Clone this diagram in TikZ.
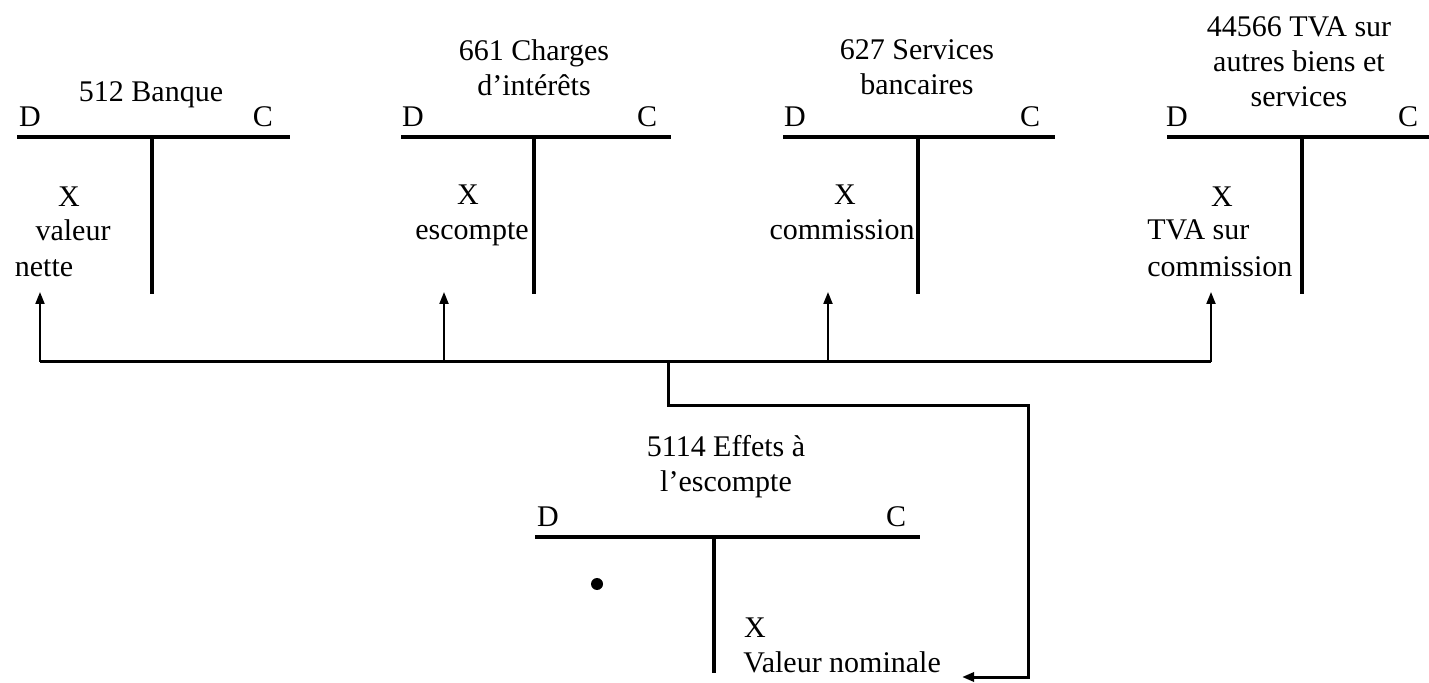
\documentclass[tikz,border=0pt]{standalone}
\usepackage{fontspec}
\setmainfont{Liberation Serif}
\usetikzlibrary{arrows.meta}
\tikzset{
    tline/.style={line width=2pt},
    bus/.style={line width=1.5pt},
    feed/.style={line width=1pt,-{Triangle[length=6pt,width=4.5pt]}},
    every node/.style={font=\fontsize{15}{17.5}\selectfont,inner sep=0pt}
}

\begin{document}
\begin{tikzpicture}[x=0.5pt,y=-0.5pt]
      \useasboundingbox (0,0) rectangle (1429,683);
      % accounts
      \foreach \l/\m/\r in {17/152/290,401/534/671,783/918/1055,1167/1302/1429}{
        \draw[tline] (\l,137) -- (\r,137);
        \draw[tline] (\m,137) -- (\m,294);
      }
      \draw[tline] (535,537) -- (920,537);
      \draw[tline] (714,537) -- (714,673);
      % titles
      \node (t512) at (151,95) {512 Banque};
      \node[align=center] (t661) at (534,68) {661 Charges\\d’intérêts};
      \node[align=center] (t627) at (917,67) {627 Services\\bancaires};
      \node[align=center] (t44566) at (1299,62) {44566 TVA sur\\autres biens et\\services};
      \node[align=center] (t5114) at (726,467) {5114 Effets à\\l’escompte};
      % sides
      \node (d512) at (30,117) {D};
      \node (c512) at (263,117) {C};
      \node (d661) at (413,117) {D};
      \node (c661) at (647,117) {C};
      \node (d627) at (795,117) {D};
      \node (c627) at (1030,117) {C};
      \node (d44566) at (1177,117) {D};
      \node (c44566) at (1408,117) {C};
      \node (d5114) at (548,517) {D};
      \node (c5114) at (896,517) {C};
      % entries
      \node (x512) at (69,197) {X};
      \node (val) at (73,230) {valeur};
      \node (net) at (44,268) {nette};
      \node (x661) at (468,195) {X};
      \node (esc) at (472,234) {escompte};
      \node (x627) at (845,195) {X};
      \node (com) at (842,230) {commission};
      \node (x44566) at (1222,197) {X};
      \node[anchor=west] (tva) at (1147,230) {TVA sur};
      \node[anchor=west] (tcom) at (1147,267) {commission};
      \node (x5114) at (755,628) {X};
      \node[anchor=west] (vnom) at (743,662) {Valeur nominale};
      \fill (597,584) circle[radius=3pt];
      % links
      \coordinate (bus512) at (40,362);
      \coordinate (bus661) at (444,362);
      \coordinate (bus627) at (828,362);
      \coordinate (bus44566) at (1211,362);
      \coordinate (in512) at (40,292);
      \coordinate (in661) at (444,292);
      \coordinate (in627) at (828,292);
      \coordinate (in44566) at (1211,292);
      \coordinate (split) at (668,362);
      \coordinate (turn) at (1028,406);
      \coordinate (in5114) at (962,677);
      \draw[bus] (bus512) -- (bus44566);
      \draw[feed] (bus512) -- (in512);
      \draw[feed] (bus661) -- (in661);
      \draw[feed] (bus627) -- (in627);
      \draw[feed] (bus44566) -- (in44566);
      \draw[bus,-{Triangle[length=6pt,width=4.5pt]}] (split) |- (turn) |- (in5114);
\end{tikzpicture}
\end{document}
